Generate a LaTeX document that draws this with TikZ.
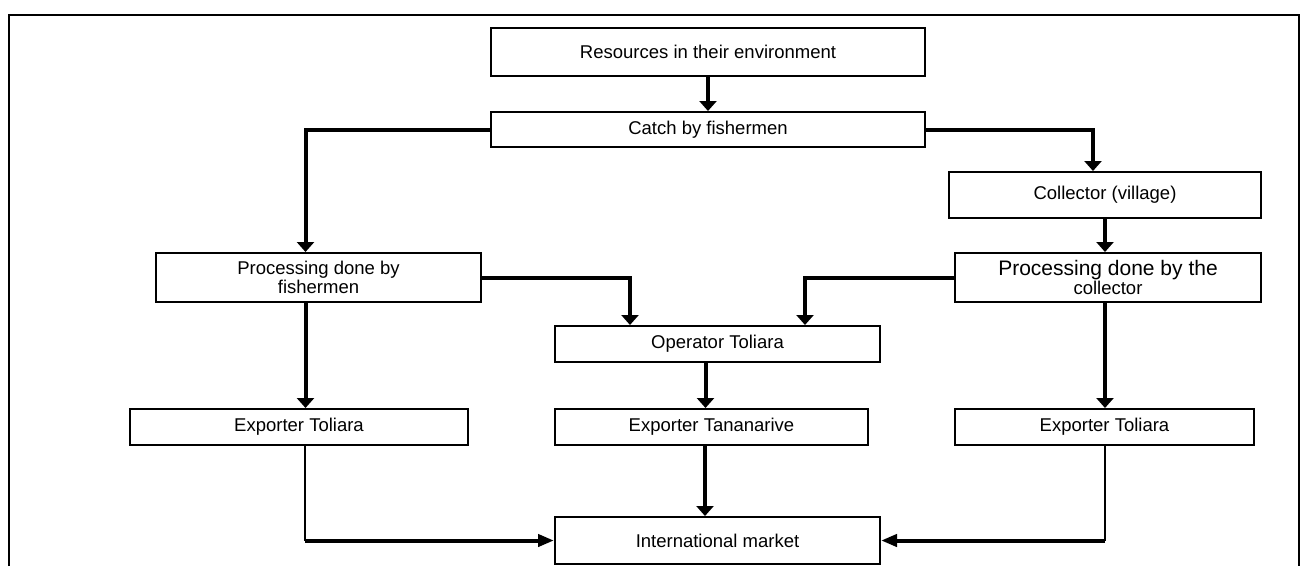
\documentclass[tikz,border=0pt]{standalone}
\usepackage{fontspec}
\setmainfont{Liberation Sans}
\usetikzlibrary{arrows.meta}
\tikzset{
  flownode/.style = {align=center, inner sep=0pt, text centered, font=\fontsize{18.5}{19.5}\selectfont},
  box_w/.style = {flownode, rectangle, draw=black, line width=2pt},
  arr_b/.style = {line width=4pt, -{Triangle[width=17pt,length=10pt]}},
  arr_h/.style = {line width=4pt, -{Triangle[width=12pt,length=16pt]}},
  line_t/.style = {line width=2pt},
}

\begin{document}
\begin{tikzpicture}[x=1pt, y=-1pt]
  \useasboundingbox (0,0) rectangle (1312,566);
  \draw[line width=1.5pt] (9,566) -- (9,15) -- (1299,15) -- (1299,566);

  % boxes
  \node [box_w, minimum width=434pt, minimum height=48pt] (res) at (708,52) {Resources in their environment};
  \node [box_w, minimum width=434pt, minimum height=35pt] (catch) at (708,129.5) {Catch by fishermen};
  \node [box_w, minimum width=312pt, minimum height=46pt] (coll) at (1105,195) {Collector (village)};
  \node [box_w, minimum width=325pt, minimum height=49pt] (pfish) at (318.5,277.5) {Processing done by\\fishermen};
  \node [box_w, minimum width=306pt, minimum height=49pt] (pcoll) at (1108,277.5) {{\fontsize{21}{21}\selectfont Processing done by the}\\collector};
  \node [box_w, minimum width=325pt, minimum height=36pt] (oper) at (717.5,344) {Operator Toliara};
  \node [box_w, minimum width=338pt, minimum height=36pt] (exl) at (299,427) {Exporter Toliara};
  \node [box_w, minimum width=313pt, minimum height=36pt] (exm) at (711.5,427) {Exporter Tananarive};
  \node [box_w, minimum width=299pt, minimum height=36pt] (exr) at (1104.5,427) {Exporter Toliara};
  \node [box_w, minimum width=325pt, minimum height=47pt] (mkt) at (717.5,540.5) {International market};

  % connector ends
  \coordinate (pf_in) at ([xshift=-13pt]pfish.north);
  \coordinate (co_in) at ([xshift=-12pt]coll.north);
  \coordinate (op_l) at ([xshift=-87.5pt]oper.north);
  \coordinate (op_r) at ([xshift=87.5pt]oper.north);
  \coordinate (pf_out) at ([xshift=-13pt]pfish.south);
  \coordinate (op_out) at ([xshift=-12pt]oper.south);
  \coordinate (pc_out) at ([xshift=-3pt]pcoll.south);
  \coordinate (exl_out) at ([xshift=6pt]exl.south);
  \coordinate (exm_out) at ([xshift=-6.5pt]exm.south);
  \coordinate (exr_out) at ([xshift=0.5pt]exr.south);
  \coordinate (mk_l) at (exl_out |- mkt.west);
  \coordinate (mk_r) at (exr_out |- mkt.east);

  % connectors
  \draw[arr_b] (res.south) -- (catch.north);
  \draw[arr_b] (catch.west) -| (pf_in);
  \draw[arr_b] (catch.east) -| (co_in);
  \draw[arr_b] (coll.south) -- (coll.south |- pcoll.north);
  \draw[arr_b] (pfish.east) -| (op_l);
  \draw[arr_b] (pcoll.west) -| (op_r);
  \draw[arr_b] (pf_out) -- (pf_out |- exl.north);
  \draw[arr_b] (op_out) -- (op_out |- exm.north);
  \draw[arr_b] (pc_out) -- (pc_out |- exr.north);
  \draw[arr_b] (exm_out) -- (exm_out |- mkt.north);
  \draw[line_t] (exl_out) -- (mk_l);
  \draw[arr_h] (mk_l) -- (mkt.west);
  \draw[line_t] (exr_out) -- (mk_r);
  \draw[arr_h] (mk_r) -- (mkt.east);
\end{tikzpicture}
\end{document}
